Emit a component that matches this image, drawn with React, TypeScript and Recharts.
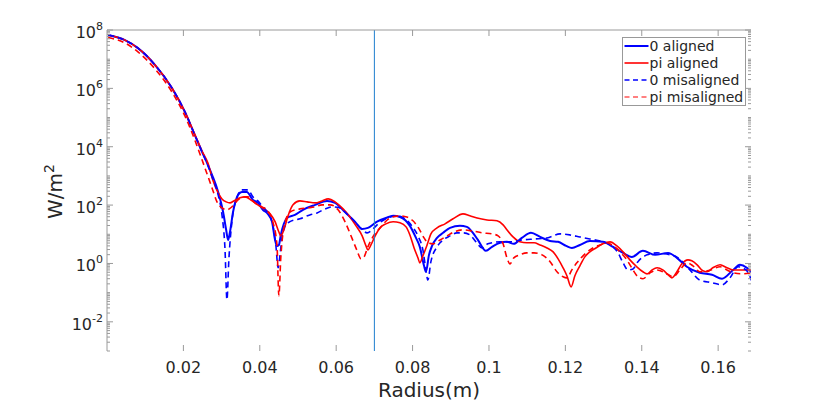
import React from 'react';
import { LineChart, Line, XAxis, YAxis, ReferenceLine } from 'recharts';

// [radius (m), intensity (W/m^2)]
const zeroAligned: [number, number][] = [
  [0.0003, 6.7e7], [0.0047, 4.5e7], [0.0081, 2.4e7], [0.0126, 6.3e6], [0.0170, 1.03e6], [0.0204, 1.56e5],
  [0.0230, 2.5e4], [0.0249, 6.6e3], [0.0264, 2.4e3], [0.0275, 1080], [0.0291, 283], [0.0304, 58], [0.0312, 14],
  [0.0317, 6.4], [0.0322, 12], [0.0330, 58], [0.0343, 223], [0.0353, 283], [0.0366, 283], [0.0382, 151],
  [0.0395, 119], [0.0408, 69], [0.0421, 50], [0.0432, 27], [0.0440, 6.4], [0.0445, 4.0], [0.0450, 4.3],
  [0.0455, 9.5], [0.0463, 23], [0.0471, 36], [0.0492, 46], [0.0513, 69], [0.0545, 102], [0.0576, 139],
  [0.0597, 119], [0.0623, 58], [0.0649, 27], [0.0668, 15.3], [0.0683, 16.5], [0.0707, 27], [0.0730, 36],
  [0.0749, 43], [0.0767, 39], [0.0793, 19.4], [0.0809, 7.5], [0.0819, 3.7], [0.0830, 0.83], [0.0835, 0.52],
  [0.0843, 1.97], [0.0851, 4.0], [0.0864, 7.5], [0.0880, 11.2], [0.0898, 16.6], [0.0924, 19.4], [0.0942, 17.9],
  [0.0958, 11.2], [0.0971, 6.4], [0.0992, 2.7], [0.1008, 3.7], [0.1029, 5.1], [0.1047, 5.5], [0.1065, 4.7],
  [0.1086, 7.5], [0.1110, 11.2], [0.1134, 8.1], [0.1160, 5.9], [0.1181, 5.5], [0.1202, 4.0], [0.1217, 3.4],
  [0.1238, 4.3], [0.1264, 5.9], [0.1298, 5.5], [0.1325, 3.7], [0.1351, 2.3], [0.1374, 1.68], [0.1403, 2.7],
  [0.1435, 1.97], [0.1469, 2.3], [0.1492, 1.56], [0.1518, 0.77], [0.1552, 0.48], [0.1584, 0.41], [0.1610, 0.30],
  [0.1639, 0.60], [0.1657, 0.9], [0.1675, 0.71], [0.1688, 0.48],
];

const piAligned: [number, number][] = [
  [0.0003, 6.7e7], [0.0047, 4.5e7], [0.0081, 2.4e7], [0.0126, 6.3e6], [0.0170, 1.03e6], [0.0204, 1.56e5],
  [0.0230, 2.6e4], [0.0249, 7.0e3], [0.0264, 2.8e3], [0.0277, 730], [0.0291, 262], [0.0301, 163], [0.0312, 129],
  [0.0322, 119], [0.0332, 139], [0.0348, 177], [0.0361, 191], [0.0380, 139], [0.0395, 102], [0.0411, 74],
  [0.0427, 50], [0.0440, 27], [0.0450, 12], [0.0455, 8.8], [0.0463, 14.2], [0.0474, 43], [0.0487, 102],
  [0.0505, 139], [0.0524, 129], [0.0545, 119], [0.0563, 139], [0.0579, 163], [0.0597, 129], [0.0618, 74],
  [0.0636, 39], [0.0652, 19.4], [0.0668, 8.8], [0.0678, 4.0], [0.0683, 2.9], [0.0691, 4.3], [0.0702, 8.8],
  [0.0715, 16.6], [0.0730, 22.7], [0.0749, 27], [0.0767, 25], [0.0783, 17.9], [0.0793, 9.5], [0.0804, 3.4],
  [0.0814, 1.56], [0.0819, 1.05], [0.0827, 1.82], [0.0838, 4.3], [0.0848, 10.3], [0.0864, 16.6], [0.0885, 22.7],
  [0.0906, 34], [0.0932, 50], [0.0950, 43], [0.0969, 36], [0.0995, 31], [0.1021, 29], [0.1037, 21],
  [0.1047, 14.2], [0.1063, 8.1], [0.1081, 5.5], [0.1099, 5.1], [0.1118, 5.1], [0.1134, 4.3], [0.1152, 3.4],
  [0.1168, 2.5], [0.1181, 1.44], [0.1194, 0.71], [0.1204, 0.38], [0.1215, 0.158], [0.1225, 0.38], [0.1238, 0.83],
  [0.1251, 1.68], [0.1264, 2.5], [0.1280, 3.4], [0.1298, 4.7], [0.1317, 5.5], [0.1335, 4.0], [0.1351, 2.5],
  [0.1369, 1.33], [0.1387, 0.77], [0.1403, 0.52], [0.1414, 0.44], [0.1427, 0.60], [0.1440, 0.71], [0.1455, 0.60],
  [0.1469, 0.41], [0.1479, 0.32], [0.1492, 0.52], [0.1505, 0.97], [0.1521, 1.33], [0.1531, 1.23], [0.1545, 0.9],
  [0.1560, 0.56], [0.1571, 0.52], [0.1586, 0.71], [0.1605, 0.9], [0.1623, 0.71], [0.1639, 0.60], [0.1657, 0.60],
  [0.1688, 0.60],
];

const zeroMisaligned: [number, number][] = [
  [0.0003, 6.7e7], [0.0047, 4.5e7], [0.0081, 2.4e7], [0.0126, 6.3e6], [0.0170, 1.03e6], [0.0204, 1.56e5],
  [0.0230, 2.5e4], [0.0249, 6.6e3], [0.0264, 2.3e3], [0.0275, 925], [0.0291, 223], [0.0301, 46], [0.0309, 2.9],
  [0.0314, 0.057], [0.0319, 1.33], [0.0327, 27], [0.0340, 177], [0.0353, 332], [0.0369, 332], [0.0382, 191],
  [0.0395, 139], [0.0408, 87], [0.0421, 54], [0.0434, 21], [0.0442, 4.3], [0.0448, 0.71], [0.0453, 1.97],
  [0.0458, 7.5], [0.0466, 19.4], [0.0479, 27], [0.0505, 34], [0.0531, 46], [0.0550, 54], [0.0571, 74],
  [0.0589, 87], [0.0610, 80], [0.0628, 50], [0.0649, 27], [0.0668, 14.2], [0.0681, 11.2], [0.0694, 14.2],
  [0.0707, 21], [0.0730, 34], [0.0759, 43], [0.0780, 34], [0.0798, 19.4], [0.0814, 8.8], [0.0827, 2.9],
  [0.0835, 0.60], [0.0840, 0.27], [0.0848, 1.15], [0.0864, 3.7], [0.0880, 6.4], [0.0898, 8.8], [0.0916, 11.2],
  [0.0932, 11.2], [0.0950, 9.5], [0.0966, 5.5], [0.0982, 3.4], [0.0997, 4.7], [0.1029, 5.5], [0.1055, 5.5],
  [0.1089, 6.4], [0.1120, 6.9], [0.1152, 7.5], [0.1186, 10.3], [0.1212, 9.5], [0.1238, 8.1], [0.1264, 6.9],
  [0.1298, 5.5], [0.1322, 4.0], [0.1338, 2.3], [0.1351, 1.05], [0.1364, 0.60], [0.1377, 0.65], [0.1390, 1.15],
  [0.1414, 1.97], [0.1440, 2.3], [0.1466, 2.1], [0.1495, 1.56], [0.1526, 0.60], [0.1552, 0.27], [0.1584, 0.22],
  [0.1610, 0.185], [0.1631, 0.32], [0.1652, 0.77], [0.1673, 0.60], [0.1688, 0.25],
];

const piMisaligned: [number, number][] = [
  [0.0003, 5.5e7], [0.0047, 3.6e7], [0.0081, 1.77e7], [0.0126, 4.6e6], [0.0170, 7.5e5], [0.0204, 1.13e5],
  [0.0230, 1.7e4], [0.0249, 3.5e3], [0.0262, 1.17e3], [0.0275, 388], [0.0288, 129], [0.0301, 80], [0.0314, 69],
  [0.0327, 87], [0.0343, 151], [0.0356, 191], [0.0369, 191], [0.0387, 119], [0.0406, 87], [0.0421, 63],
  [0.0434, 27], [0.0445, 4.3], [0.0450, 0.078], [0.0455, 1.56], [0.0463, 16.6], [0.0479, 58], [0.0505, 74],
  [0.0524, 80], [0.0545, 87], [0.0563, 102], [0.0584, 102], [0.0605, 69], [0.0623, 27], [0.0641, 7.5],
  [0.0654, 2.9], [0.0665, 1.44], [0.0673, 1.68], [0.0683, 3.7], [0.0696, 8.1], [0.0715, 16.6], [0.0741, 36],
  [0.0767, 43], [0.0785, 39], [0.0801, 29], [0.0817, 15.3], [0.0830, 7.5], [0.0840, 5.1], [0.0853, 4.7],
  [0.0872, 6.4], [0.0890, 8.8], [0.0908, 12], [0.0932, 14.2], [0.0955, 13.1], [0.0982, 11.2], [0.1008, 10.3],
  [0.1024, 8.8], [0.1037, 4.7], [0.1047, 1.56], [0.1055, 0.97], [0.1065, 1.56], [0.1081, 1.97], [0.1099, 2.3],
  [0.1118, 2.3], [0.1139, 1.97], [0.1160, 1.15], [0.1178, 0.52], [0.1194, 0.35], [0.1204, 0.32], [0.1217, 0.60],
  [0.1230, 1.05], [0.1251, 2.1], [0.1272, 3.4], [0.1291, 4.3], [0.1309, 5.1], [0.1325, 4.0], [0.1343, 2.5],
  [0.1361, 1.33], [0.1377, 0.60], [0.1390, 0.35], [0.1403, 0.30], [0.1422, 0.48], [0.1440, 0.60], [0.1461, 0.48],
  [0.1482, 0.35], [0.1500, 0.60], [0.1518, 1.05], [0.1534, 0.83], [0.1552, 0.52], [0.1581, 0.60], [0.1605, 0.77],
  [0.1623, 0.60], [0.1639, 0.48], [0.1662, 0.44], [0.1688, 0.48],
];

const markerRadius = 0.07;

const xTicks = [0.02, 0.04, 0.06, 0.08, 0.1, 0.12, 0.14, 0.16];
const xTickLabels = ['0.02', '0.04', '0.06', '0.08', '0.1', '0.12', '0.14', '0.16'];
const yMajorTicks = [1e-2, 1, 1e2, 1e4, 1e6, 1e8];
const yMajorExponents = ['-2', '0', '2', '4', '6', '8'];
const yMinorTicks: number[] = [];
for (let k = -3; k <= 7; k++) {
  for (let m = 1; m <= 9; m++) {
    if (m === 1 && k % 2 === 0) continue;
    yMinorTicks.push(m * Math.pow(10, k));
  }
}
const yTicks = [...yMinorTicks, ...yMajorTicks].sort((a, b) => a - b);

const legendItems = [
  { label: '0 aligned', color: '#0000ff', dash: undefined as string | undefined, width: 2 },
  { label: 'pi aligned', color: '#ff0000', dash: undefined as string | undefined, width: 1.6 },
  { label: '0 misaligned', color: '#0000ff', dash: '5 3.5', width: 1.6 },
  { label: 'pi misaligned', color: '#ff8080', dash: '5 3.5', width: 2 },
];

const AXIS = '#9a9a9a';
const TEXT = '#262626';
const FONT = '"DejaVu Sans", sans-serif';

const toRows = (pts: [number, number][]) => pts.map(([r, w]) => ({ r, w }));

const majorIndex = (v: number) =>
  yMajorTicks.findIndex((t) => Math.abs(Math.log10(t) - Math.log10(v)) < 1e-6);

const LeftTick = (props: any) => {
  const { x, y, payload } = props;
  const idx = majorIndex(payload.value);
  const major = idx >= 0;
  return (
    <g>
      <line x1={x} x2={x + (major ? 6 : 3)} y1={y} y2={y} stroke={AXIS} strokeWidth={1} />
      {major && (
        <text x={x - 4} y={y + 8} textAnchor="end" fontSize={16} fill={TEXT} fontFamily={FONT}>
          <tspan>10</tspan>
          <tspan dy={-8} fontSize={11}>{yMajorExponents[idx]}</tspan>
        </text>
      )}
    </g>
  );
};

const RightTick = (props: any) => {
  const { x, y, payload } = props;
  const major = majorIndex(payload.value) >= 0;
  return <line x1={x - (major ? 6 : 3)} x2={x} y1={y} y2={y} stroke={AXIS} strokeWidth={1} />;
};

const BottomTick = (props: any) => {
  const { x, y, payload } = props;
  const i = xTicks.findIndex((t) => Math.abs(t - payload.value) < 1e-9);
  return (
    <g>
      <line x1={x} x2={x} y1={y - 6} y2={y} stroke={AXIS} strokeWidth={1} />
      <text x={x} y={y + 22} textAnchor="middle" fontSize={16} fill={TEXT} fontFamily={FONT}>
        {i >= 0 ? xTickLabels[i] : String(payload.value)}
      </text>
    </g>
  );
};

const TopTick = (props: any) => {
  const { x, y } = props;
  return <line x1={x} x2={x} y1={y} y2={y + 6} stroke={AXIS} strokeWidth={1} />;
};

const XLabel = (props: any) => {
  const vb = props.viewBox || {};
  return (
    <text x={vb.x + vb.width / 2} y={vb.y + 46} textAnchor="middle" fontSize={20} fill={TEXT} fontFamily={FONT}>
      Radius(m)
    </text>
  );
};

const YLabel = (props: any) => {
  const vb = props.viewBox || {};
  const cx = 62;
  const cy = vb.y + vb.height / 2 + 1;
  return (
    <text x={cx} y={cy} textAnchor="middle" fontSize={20} fill={TEXT} fontFamily={FONT} transform={`rotate(-90, ${cx}, ${cy})`}>
      <tspan>W/m</tspan>
      <tspan dy={-8} fontSize={14}>2</tspan>
    </text>
  );
};

const LegendBox = () => (
  <svg width={125} height={70} style={{ position: 'absolute', left: 621.5, top: 36.5 }}>
    <rect x={0.5} y={0.5} width={123} height={68} fill="#ffffff" stroke="#999999" strokeWidth={1} />
    {legendItems.map((it, i) => {
      const cy = 9 + i * 17;
      return (
        <g key={it.label}>
          <line x1={2.5} x2={26.5} y1={cy} y2={cy} stroke={it.color} strokeWidth={it.width} strokeDasharray={it.dash} />
          <text x={27.5} y={cy + 5} fontSize={14} fill={TEXT} fontFamily={FONT}>
            {it.label}
          </text>
        </g>
      );
    })}
  </svg>
);

export default function App() {
  return (
    <div style={{ position: 'absolute', left: 0, top: 0, width: 831, height: 402, background: '#ffffff', fontFamily: FONT }}>
      <LineChart width={831} height={402} margin={{ top: 29, right: 79, bottom: 50, left: 106 }}>
        <XAxis
          xAxisId="b"
          dataKey="r"
          type="number"
          domain={[0, 0.1686]}
          allowDataOverflow
          ticks={xTicks}
          interval={0}
          height={1}
          tickSize={0}
          tickMargin={0}
          tickLine={false}
          axisLine={false}
          tick={<BottomTick />}
          label={<XLabel />}
        />
        <XAxis
          xAxisId="t"
          orientation="top"
          dataKey="r"
          type="number"
          domain={[0, 0.1686]}
          allowDataOverflow
          ticks={xTicks}
          interval={0}
          height={1}
          tickSize={0}
          tickMargin={0}
          tickLine={false}
          axisLine={{ stroke: AXIS }}
          tick={<TopTick />}
        />
        <YAxis
          yAxisId="l"
          type="number"
          scale="log"
          domain={[1e-3, 1e8]}
          allowDataOverflow
          ticks={yTicks}
          interval={0}
          width={1}
          tickSize={0}
          tickMargin={0}
          tickLine={false}
          axisLine={{ stroke: AXIS }}
          tick={<LeftTick />}
          label={<YLabel />}
        />
        <YAxis
          yAxisId="r"
          orientation="right"
          type="number"
          scale="log"
          domain={[1e-3, 1e8]}
          allowDataOverflow
          ticks={yTicks}
          interval={0}
          width={1}
          tickSize={0}
          tickMargin={0}
          tickLine={false}
          axisLine={false}
          tick={<RightTick />}
        />
        <Line xAxisId="b" yAxisId="l" data={toRows(zeroAligned)} dataKey="w" type="monotone" stroke="#0000ff" strokeWidth={2} dot={false} activeDot={false} isAnimationActive={false} />
        <Line xAxisId="b" yAxisId="l" data={toRows(piAligned)} dataKey="w" type="monotone" stroke="#ff0000" strokeWidth={1.6} dot={false} activeDot={false} isAnimationActive={false} />
        <Line xAxisId="b" yAxisId="l" data={toRows(zeroMisaligned)} dataKey="w" type="monotone" stroke="#0000ff" strokeWidth={1.6} strokeDasharray="6 4" dot={false} activeDot={false} isAnimationActive={false} />
        <Line xAxisId="b" yAxisId="l" data={toRows(piMisaligned)} dataKey="w" type="monotone" stroke="#ff0000" strokeWidth={1.6} strokeDasharray="6 4" dot={false} activeDot={false} isAnimationActive={false} />
        <ReferenceLine xAxisId="b" yAxisId="l" x={markerRadius} stroke="#1f7fcf" strokeWidth={1} ifOverflow="hidden" />
      </LineChart>
      <LegendBox />
    </div>
  );
}
